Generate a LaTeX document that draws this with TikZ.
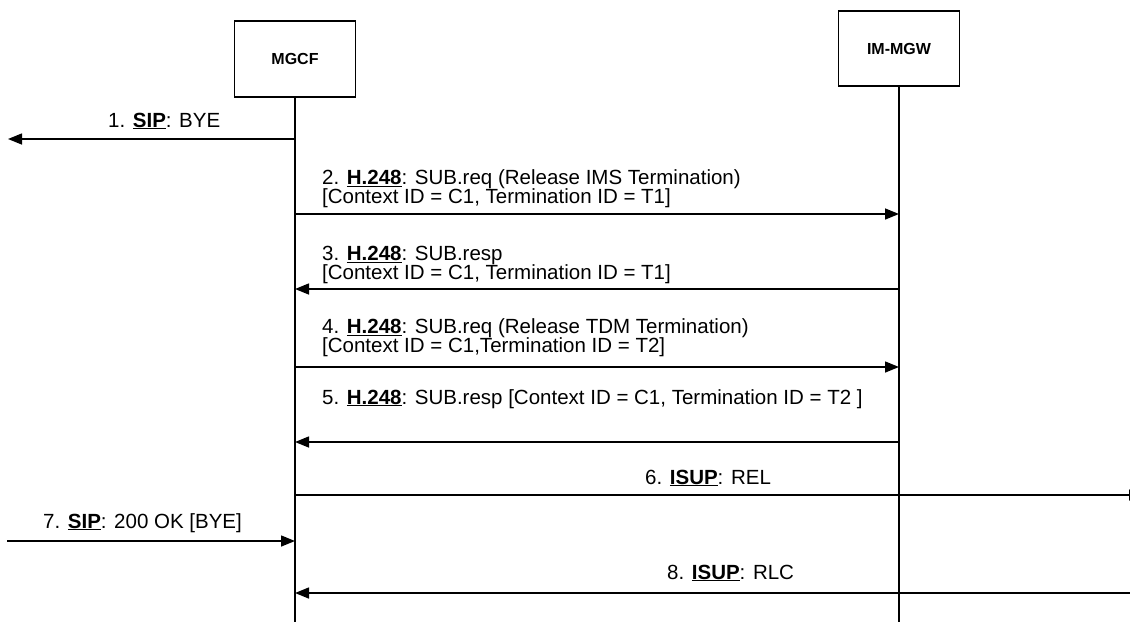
\documentclass[tikz,border=0pt]{standalone}
\usepackage{fontspec}
\setmainfont{Liberation Sans}
\usetikzlibrary{arrows.meta}

\newcommand{\proto}[1]{\underline{\textbf{#1}}}
\newcommand{\lblfont}{\fontsize{20.5}{18.5}\selectfont\lineskiplimit=-100pt\relax}

\begin{document}
\begin{tikzpicture}[x=1pt,y=-1pt,
  entity/.style={draw, line width=1.5pt, minimum width=121pt, minimum height=76pt,
    inner sep=0pt, font=\bfseries\fontsize{16}{18}\selectfont},
  life/.style={line width=1.5pt},
  msg/.style={line width=1.5pt, -{Triangle[length=14pt,width=11pt]}},
  lbl/.style={anchor=base west, inner sep=0pt, align=left, font=\lblfont}]
  \useasboundingbox (0,0) rectangle (1130,622);
  % entities and lifelines
  \node[entity] (mgcf) at (295,59) {MGCF};
  \node[entity, minimum height=75pt] (mgw) at (899,48.5) {IM-MGW};
  \coordinate (mgcfend) at (295,622);
  \coordinate (mgwend) at (899,622);
  \draw[life] (mgcf.south) -- (mgcfend);
  \draw[life] (mgw.south) -- (mgwend);
  % 1
  \coordinate (sipout) at (8,139);
  \draw[msg] (mgcf |- sipout) -- (sipout);
  \node[lbl] (m1) at (108,127) {1. \proto{SIP}: BYE};
  % 2
  \draw[msg] (mgcf |- 0,214) -- (mgw |- 0,214);
  \node[lbl] (m2) at (322,203) {2. \proto{H.248}: SUB.req (Release IMS Termination)\\{[}Context ID = C1, Termination ID = T1]};
  % 3
  \draw[msg] (mgw |- 0,289) -- (mgcf |- 0,289);
  \node[lbl] (m3) at (322,279) {3. \proto{H.248}: SUB.resp\\{[}Context ID = C1, Termination ID = T1]};
  % 4
  \draw[msg] (mgcf |- 0,367) -- (mgw |- 0,367);
  \node[lbl] (m4) at (322,352) {4. \proto{H.248}: SUB.req (Release TDM Termination)\\{[}Context ID = C1,Termination ID = T2]};
  % 5
  \draw[msg] (mgw |- 0,442) -- (mgcf |- 0,442);
  \node[lbl] (m5) at (322,404) {5. \proto{H.248}: SUB.resp [Context ID = C1, Termination ID = T2 ]};
  % 6
  \coordinate (isupout) at (1143,495);
  \draw[msg] (mgcf |- isupout) -- (isupout);
  \node[lbl] (m6) at (645,484) {6. \proto{ISUP}: REL};
  % 7
  \coordinate (sipin) at (7,541);
  \draw[msg] (sipin) -- (mgcf |- sipin);
  \node[lbl] (m7) at (43,528) {7. \proto{SIP}: 200 OK [BYE]};
  % 8
  \coordinate (isupin) at (1130,593);
  \draw[msg] (isupin) -- (mgcf |- isupin);
  \node[lbl] (m8) at (667,579) {8. \proto{ISUP}: RLC};
\end{tikzpicture}
\end{document}
